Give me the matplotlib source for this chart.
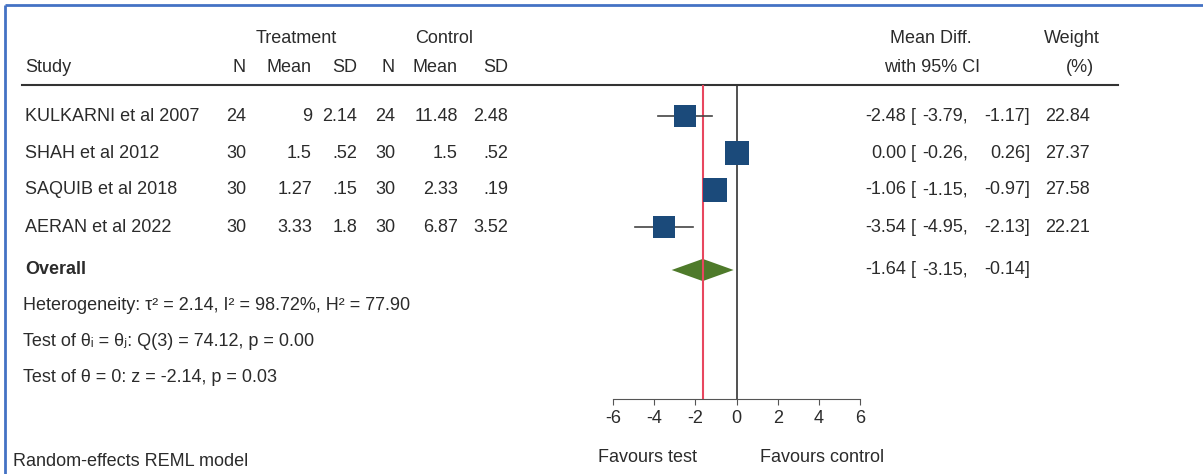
import matplotlib.pyplot as plt
import numpy as np

plt.rcParams["font.family"] = ["Liberation Sans", "DejaVu Sans"]
plt.rcParams["font.size"] = 13
plt.rcParams["axes.unicode_minus"] = False

# data
studies = ["KULKARNI et al 2007", "SHAH et al 2012", "SAQUIB et al 2018", "AERAN et al 2022"]
n_t = ["24", "30", "30", "30"]
mean_t = ["9", "1.5", "1.27", "3.33"]
sd_t = ["2.14", ".52", ".15", "1.8"]
n_c = ["24", "30", "30", "30"]
mean_c = ["11.48", "1.5", "2.33", "6.87"]
sd_c = ["2.48", ".52", ".19", "3.52"]
md = [-2.48, 0.00, -1.06, -3.54]
lo = [-3.79, -0.26, -1.15, -4.95]
hi = [-1.17, 0.26, -0.97, -2.13]
weight = [22.84, 27.37, 27.58, 22.21]
overall = (-1.64, -3.15, -0.14)
xticks = [-6, -4, -2, 0, 2, 4, 6]

txt = "#2b2b2b"
W, H = 1203, 474
fig = plt.figure(figsize=(W / 100, H / 100), dpi=100)

bg = fig.add_axes([0, 0, 1, 1])
bg.set_xlim(0, W)
bg.set_ylim(H, 0)
bg.axis("off")

# blue frame (top & left)
bg.plot([4.5, W], [4.5, 4.5], color="#4472C4", lw=2, solid_capstyle="butt")
bg.plot([4.5, 4.5], [4.5, H], color="#4472C4", lw=2, solid_capstyle="butt")

# headers
bg.text(296, 38, "Treatment", ha="center", va="center", color=txt)
bg.text(444, 38, "Control", ha="center", va="center", color=txt)
bg.text(25, 67, "Study", ha="left", va="center", color=txt)
cols = [246, 312, 357, 395, 458, 508]
for x, h in zip(cols, ["N", "Mean", "SD", "N", "Mean", "SD"]):
    bg.text(x, 67, h, ha="right", va="center", color=txt)
bg.text(931, 38, "Mean Diff.", ha="center", va="center", color=txt)
bg.text(932, 67, "with 95% CI", ha="center", va="center", color=txt)
bg.text(1072, 38, "Weight", ha="center", va="center", color=txt)
bg.text(1080, 67, "(%)", ha="center", va="center", color=txt)
bg.plot([22, 1118], [85, 85], color="#333333", lw=1.5)

row0, step = 116, 37


def ci_text(y, e, l, h):
    bg.text(906, y, f"{e:.2f}", ha="right", va="center", color=txt)
    bg.text(911, y, "[", ha="left", va="center", color=txt)
    bg.text(968, y, f"{l:.2f},", ha="right", va="center", color=txt)
    bg.text(1030, y, f"{h:.2f}]", ha="right", va="center", color=txt)


for i in range(len(studies)):
    y = row0 + step * i
    bg.text(25, y, studies[i], ha="left", va="center", color=txt)
    for x, v in zip(cols, [n_t[i], mean_t[i], sd_t[i], n_c[i], mean_c[i], sd_c[i]]):
        bg.text(x, y, v, ha="right", va="center", color=txt)
    ci_text(y, md[i], lo[i], hi[i])
    bg.text(1090, y, f"{weight[i]:.2f}", ha="right", va="center", color=txt)

y_ov = 270
bg.text(25, y_ov, "Overall", ha="left", va="center", color=txt, fontweight="bold")
ci_text(y_ov, *overall)
bg.text(23, 305, "Heterogeneity: τ² = 2.14, I² = 98.72%, H² = 77.90", ha="left", va="center", color=txt)
bg.text(23, 342, "Test of θᵢ = θⱼ: Q(3) = 74.12, p = 0.00", ha="left", va="center", color=txt)
bg.text(23, 378, "Test of θ = 0: z = -2.14, p = 0.03", ha="left", va="center", color=txt)
bg.text(13, 462, "Random-effects REML model", ha="left", va="center", color=txt)
bg.text(647, 458, "Favours test", ha="center", va="center", color=txt)
bg.text(822, 458, "Favours control", ha="center", va="center", color=txt)

# forest panel
x0, x1, ytop, ybot = 613, 860, 85, 399
ax = fig.add_axes([x0 / W, 1 - ybot / H, (x1 - x0) / W, (ybot - ytop) / H])
ax.patch.set_alpha(0)
ax.set_xlim(-6, 6)
ax.set_ylim((ybot - row0) / step, (ytop - row0) / step)
for s in ["left", "right", "top"]:
    ax.spines[s].set_visible(False)
ax.spines["bottom"].set_color("#555555")
ax.set_yticks([])
ax.set_xticks(xticks)
ax.tick_params(axis="x", length=4, color="#555555", labelcolor=txt, labelsize=13, pad=4)

ax.axvline(0, color="#333333", lw=1.2)
ax.axvline(overall[0], color="#e8475f", lw=1.5)

ypos = np.arange(len(studies))
for i in range(len(studies)):
    ax.plot([lo[i], hi[i]], [ypos[i], ypos[i]], color="#444444", lw=1.2)
    side = 4.7 * np.sqrt(weight[i]) * 0.72
    ax.plot(md[i], ypos[i], marker="s", markersize=side, color="#1b4a7a", mew=0)

yo = (y_ov - row0) / step
ax.fill([overall[1], overall[0], overall[2], overall[0]],
        [yo, yo - 0.3, yo, yo + 0.3], color="#4e7a2a", lw=0)

fig.savefig("out.png", dpi=100)
